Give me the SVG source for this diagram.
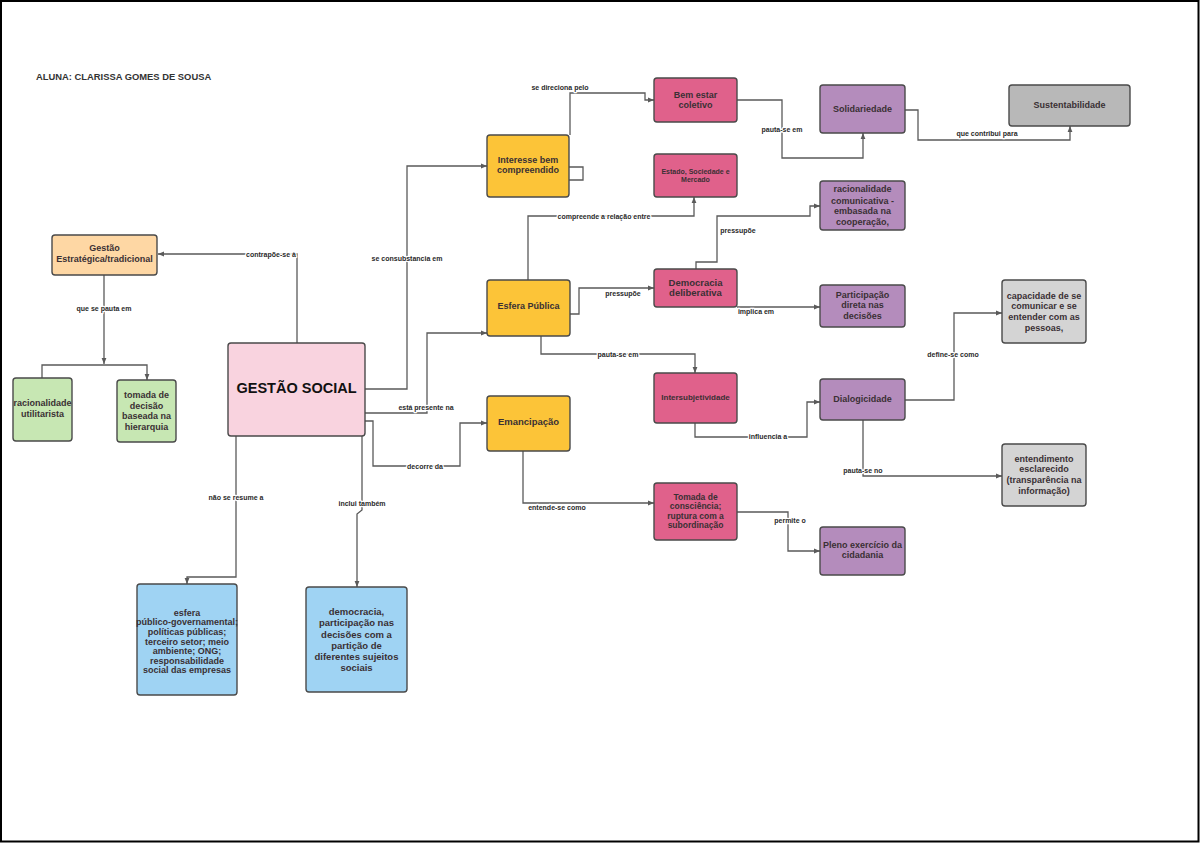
<svg xmlns="http://www.w3.org/2000/svg" width="1200" height="843" viewBox="0 0 1200 843">
<style>
.n{stroke:#4a4a4a;stroke-width:1.4}
.t{font-family:"Liberation Sans",Arial,sans-serif;font-weight:bold;font-size:9px;fill:#3a3034;text-anchor:middle}
.c{fill:none;stroke:#5a5a5a;stroke-width:1.3}
.l{font-family:"Liberation Sans",Arial,sans-serif;font-weight:bold;font-size:7px;fill:#2a2a2a;text-anchor:middle;stroke:#fff;stroke-width:2.5;paint-order:stroke;stroke-linejoin:round}
.or{fill:#fed7a4}.gr{fill:#c7e7b3}.pk{fill:#f9d3df}.bl{fill:#9fd3f3}.ye{fill:#fcc438}.rd{fill:#e0618b}.pu{fill:#b48cbc}.g1{fill:#b8b8b8}.g2{fill:#d4d4d4}
</style>
<defs>
<marker id="a" viewBox="0 0 10 10" refX="10" refY="5" markerWidth="6" markerHeight="6" markerUnits="userSpaceOnUse" orient="auto"><path d="M0,1 L10,5 L0,9 z" fill="#5a5a5a"/></marker>
</defs>
<rect x="0" y="0" width="1200" height="843" fill="#fff"/>
<rect x="1" y="1" width="1197.5" height="840.5" fill="none" stroke="#000" stroke-width="2"/>
<text x="36" y="80" style="font-family:'Liberation Sans',Arial,sans-serif;font-weight:bold;font-size:9.4px;fill:#333">ALUNA: CLARISSA GOMES DE SOUSA</text>

<g id="connectors">
<path class="c" d="M297,343 V254 H158" marker-end="url(#a)"/>
<path class="c" d="M104,275 V364" marker-end="url(#a)"/>
<path class="c" d="M42,378 V365 H147 V380" marker-end="url(#a)"/>
<path class="c" d="M365,389 H407 V166 H487" marker-end="url(#a)"/>
<path class="c" d="M365,413 H427 V333 H487" marker-end="url(#a)"/>
<path class="c" d="M365,421 H373 V466 H460 V423 H487" marker-end="url(#a)"/>
<path class="c" d="M236,436 V577 H187 V584" marker-end="url(#a)"/>
<path class="c" d="M362,436 V510 L357,514 V587" marker-end="url(#a)"/>
<path class="c" d="M570,135 V93 H645 V100 H654" marker-end="url(#a)"/>
<path class="c" d="M569,167 H583 V180 H569"/>
<path class="c" d="M737,100 H782 V158 H863 V133" marker-end="url(#a)"/>
<path class="c" d="M905,110 H918 V140 H1070 V126" marker-end="url(#a)"/>
<path class="c" d="M528,280 V216 H694 V197" marker-end="url(#a)"/>
<path class="c" d="M570,314 H579 V288 H654" marker-end="url(#a)"/>
<path class="c" d="M696,269 V262 H717 V216 H810 V206 H820" marker-end="url(#a)"/>
<path class="c" d="M737,307 H820" marker-end="url(#a)"/>
<path class="c" d="M541,336 V354 H695 V373" marker-end="url(#a)"/>
<path class="c" d="M695,423 V437 H807 V402 H820" marker-end="url(#a)"/>
<path class="c" d="M905,400 H954 V313 H1002" marker-end="url(#a)"/>
<path class="c" d="M863,420 V476 H1002" marker-end="url(#a)"/>
<path class="c" d="M737,512 H788 V551 H820" marker-end="url(#a)"/>
<path class="c" d="M523,451 V503 H654" marker-end="url(#a)"/>
<text class="l" x="271" y="257">contrapõe-se à</text>
<text class="l" x="104" y="311">que se pauta em</text>
<text class="l" x="407" y="261">se consubstancia em</text>
<text class="l" x="426" y="410">está presente na</text>
<text class="l" x="425" y="469">decorre da</text>
<text class="l" x="236" y="500">não se resume a</text>
<text class="l" x="362" y="506">inclui também</text>
<text class="l" x="560" y="90">se direciona pelo</text>
<text class="l" x="782" y="132">pauta-se em</text>
<text class="l" x="987" y="136">que contribui para</text>
<text class="l" x="604" y="219">compreende a relação entre</text>
<text class="l" x="623" y="296">pressupõe</text>
<text class="l" x="738" y="233">pressupõe</text>
<text class="l" x="756" y="314">implica em</text>
<text class="l" x="618" y="357">pauta-se em</text>
<text class="l" x="768" y="439">influencia a</text>
<text class="l" x="953" y="357">define-se como</text>
<text class="l" x="863" y="473">pauta-se no</text>
<text class="l" x="790" y="523">permite o</text>
<text class="l" x="557" y="510">entende-se como</text>
</g>

<g id="gestao-estrategica"><rect class="n or" x="52" y="235" width="105" height="40" rx="3"/><text class="t" x="104.5" y="251">Gestão</text><text class="t" x="104.5" y="262">Estratégica/tradicional</text></g>
<g id="racionalidade-utilitarista"><rect class="n gr" x="13" y="378" width="59" height="63" rx="3"/><text class="t" x="42.5" y="406">racionalidade</text><text class="t" x="42.5" y="417">utilitarista</text></g>
<g id="tomada-decisao"><rect class="n gr" x="117" y="380" width="59" height="62" rx="3"/><text class="t" x="146.5" y="398">tomada de</text><text class="t" x="146.5" y="408.5">decisão</text><text class="t" x="146.5" y="419">baseada na</text><text class="t" x="146.5" y="429.5">hierarquia</text></g>
<g id="gestao-social"><rect class="n pk" x="228" y="343" width="137" height="93" rx="3"/><text class="t" x="296.5" y="393" style="font-size:14.5px;fill:#111">GESTÃO SOCIAL</text></g>
<g id="esfera-governamental"><rect class="n bl" x="137" y="584" width="100" height="111" rx="3"/>
<text class="t" x="187" y="615.7">esfera</text><text class="t" x="187" y="625.3">público-governamental;</text><text class="t" x="187" y="634.9">políticas públicas;</text><text class="t" x="187" y="644.5">terceiro setor; meio</text><text class="t" x="187" y="654.1">ambiente; ONG;</text><text class="t" x="187" y="663.7">responsabilidade</text><text class="t" x="187" y="673.3">social das empresas</text></g>
<g id="democracia-participacao"><rect class="n bl" x="306" y="587" width="101" height="105" rx="3"/>
<g style="font-size:9.5px"><text class="t" x="356.5" y="615" style="font-size:9.5px">democracia,</text><text class="t" x="356.5" y="626.3" style="font-size:9.5px">participação nas</text><text class="t" x="356.5" y="637.5" style="font-size:9.5px">decisões com a</text><text class="t" x="356.5" y="648.8" style="font-size:9.5px">partição de</text><text class="t" x="356.5" y="660" style="font-size:9.5px">diferentes sujeitos</text><text class="t" x="356.5" y="671.3" style="font-size:9.5px">sociais</text></g></g>
<g id="interesse"><rect class="n ye" x="487" y="135" width="82" height="62" rx="3"/><text class="t" x="528" y="163">Interesse bem</text><text class="t" x="528" y="173">compreendido</text></g>
<g id="esfera-publica"><rect class="n ye" x="487" y="280" width="83" height="56" rx="3"/><text class="t" x="528.5" y="309">Esfera Pública</text></g>
<g id="emancipacao"><rect class="n ye" x="487" y="396" width="83" height="55" rx="3"/><text class="t" x="528.5" y="425" style="font-size:9.5px">Emancipação</text></g>
<g id="bem-estar"><rect class="n rd" x="654" y="78" width="83" height="44" rx="3"/><text class="t" x="695.5" y="97.5">Bem estar</text><text class="t" x="695.5" y="107.5">coletivo</text></g>
<g id="estado-sociedade"><rect class="n rd" x="654" y="154" width="83" height="43" rx="3"/><text class="t" x="695.5" y="173.5" style="font-size:7px">Estado, Sociedade e</text><text class="t" x="695.5" y="181.5" style="font-size:7px">Mercado</text></g>
<g id="democracia-deliberativa"><rect class="n rd" x="654" y="269" width="83" height="38" rx="3"/><text class="t" x="695.5" y="285.5" style="font-size:9.5px">Democracia</text><text class="t" x="695.5" y="295.5" style="font-size:9.5px">deliberativa</text></g>
<g id="intersubjetividade"><rect class="n rd" x="654" y="373" width="83" height="50" rx="3"/><text class="t" x="695.5" y="399.5" style="font-size:8px">Intersubjetividade</text></g>
<g id="tomada-consciencia"><rect class="n rd" x="654" y="483" width="83" height="57" rx="3"/><text class="t" x="695.5" y="499.5" style="font-size:8.5px">Tomada de</text><text class="t" x="695.5" y="509" style="font-size:8.5px">consciência;</text><text class="t" x="695.5" y="518.5" style="font-size:8.5px">ruptura com a</text><text class="t" x="695.5" y="528" style="font-size:8.5px">subordinação</text></g>
<g id="solidariedade"><rect class="n pu" x="820" y="85" width="85" height="48" rx="3"/><text class="t" x="862.5" y="112">Solidariedade</text></g>
<g id="racionalidade-comunicativa"><rect class="n pu" x="820" y="181" width="85" height="49" rx="3"/><text class="t" x="862.5" y="192">racionalidade</text><text class="t" x="862.5" y="203.5">comunicativa -</text><text class="t" x="862.5" y="214">embasada na</text><text class="t" x="862.5" y="224.5">cooperação,</text></g>
<g id="participacao-direta"><rect class="n pu" x="820" y="285" width="85" height="42" rx="3"/><text class="t" x="862.5" y="297.5">Participação</text><text class="t" x="862.5" y="308">direta nas</text><text class="t" x="862.5" y="318.5">decisões</text></g>
<g id="dialogicidade"><rect class="n pu" x="820" y="379" width="85" height="41" rx="3"/><text class="t" x="862.5" y="401.5">Dialogicidade</text></g>
<g id="pleno-exercicio"><rect class="n pu" x="820" y="527" width="85" height="48" rx="3"/><text class="t" x="862.5" y="548">Pleno exercício da</text><text class="t" x="862.5" y="558">cidadania</text></g>
<g id="sustentabilidade"><rect class="n g1" x="1009" y="85" width="121" height="41" rx="3"/><text class="t" x="1069.5" y="108">Sustentabilidade</text></g>
<g id="capacidade"><rect class="n g2" x="1002" y="280" width="84" height="63" rx="3"/><text class="t" x="1044" y="299">capacidade de se</text><text class="t" x="1044" y="309">comunicar e se</text><text class="t" x="1044" y="320">entender com as</text><text class="t" x="1044" y="330.5">pessoas,</text></g>
<g id="entendimento"><rect class="n g2" x="1002" y="444" width="84" height="62" rx="3"/><text class="t" x="1044" y="461.5">entendimento</text><text class="t" x="1044" y="472">esclarecido</text><text class="t" x="1044" y="483">(transparência na</text><text class="t" x="1044" y="493.5">informação)</text></g>
</svg>
